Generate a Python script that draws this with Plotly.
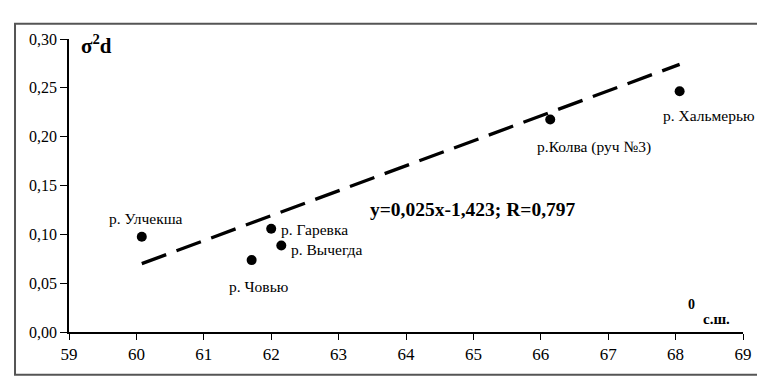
import plotly.graph_objects as go

# Data
rivers = ["р. Улчекша", "р. Човью", "р. Гаревка", "р. Вычегда", "р.Колва (руч №3)", "р. Хальмерью"]
latitude = [60.08, 61.71, 62.00, 62.15, 66.14, 68.06]
sigma2d = [0.0975, 0.0736, 0.1057, 0.0886, 0.2175, 0.2465]
trend_x = [60.08, 68.06]
trend_y = [0.070, 0.274]
equation = "y=0,025x-1,423; R=0,797"
x_ticks = [59, 60, 61, 62, 63, 64, 65, 66, 67, 68, 69]
y_ticks = [0.00, 0.05, 0.10, 0.15, 0.20, 0.25, 0.30]
y_tick_labels = ["0,00", "0,05", "0,10", "0,15", "0,20", "0,25", "0,30"]

FONT = "Liberation Serif, Times New Roman, serif"

fig = go.Figure()
fig.add_trace(go.Scatter(
    x=trend_x, y=trend_y, mode="lines",
    line=dict(color="black", width=3.3, dash="26px,11px"),
    hoverinfo="skip", showlegend=False))
fig.add_trace(go.Scatter(
    x=latitude, y=sigma2d, mode="markers",
    marker=dict(color="black", size=10),
    showlegend=False))

# label offsets (pixels) relative to each point
label_style = [
    dict(xanchor="center", xshift=4, yshift=18),
    dict(xanchor="center", xshift=7, yshift=-26),
    dict(xanchor="left", xshift=8, yshift=-1),
    dict(xanchor="left", xshift=8, yshift=-4),
    dict(xanchor="center", xshift=44, yshift=-27),
    dict(xanchor="center", xshift=29, yshift=-24),
]
for name, xv, yv, st in zip(rivers, latitude, sigma2d, label_style):
    fig.add_annotation(x=xv, y=yv, text=name, showarrow=False,
                       yanchor="middle", font=dict(family=FONT, size=15.5, color="black"), **st)

fig.add_annotation(x=63.44, y=0.1251, text="<b>" + equation + "</b>", showarrow=False,
                   xanchor="left", yanchor="middle",
                   font=dict(family=FONT, size=19.5, color="black"))
fig.add_annotation(x=59.15, y=0.294, text="<b>σ<sup>2</sup>d</b>", showarrow=False,
                   xanchor="left", yanchor="middle",
                   font=dict(family=FONT, size=21, color="black"))
fig.add_annotation(x=68.23, y=0.028, text="<b>0</b>", showarrow=False,
                   xanchor="center", yanchor="middle",
                   font=dict(family=FONT, size=14, color="black"))
fig.add_annotation(x=68.38, y=0.0129, text="<b>с.ш.</b>", showarrow=False,
                   xanchor="left", yanchor="middle",
                   font=dict(family=FONT, size=15, color="black"))

# outer frame
fig.add_shape(type="rect", xref="paper", yref="paper",
              x0=-0.0801, x1=1.0326, y0=-0.1456, y1=1.0522,
              line=dict(color="#555555", width=2))

fig.update_xaxes(range=[59, 69], tickvals=x_ticks, ticks="outside", ticklen=6,
                 tickcolor="black", showline=True, linecolor="black", linewidth=1.5,
                 showgrid=False, zeroline=False,
                 tickfont=dict(family=FONT, size=17, color="black"))
fig.update_yaxes(range=[0, 0.30], tickvals=y_ticks, ticktext=y_tick_labels,
                 ticks="outside", ticklen=7, tickcolor="black",
                 showline=True, linecolor="black", linewidth=1.5,
                 showgrid=False, zeroline=False,
                 tickfont=dict(family=FONT, size=16, color="black"))

fig.update_layout(width=765, height=378, margin=dict(l=61, r=30, t=31, b=54),
                  plot_bgcolor="white", paper_bgcolor="white", showlegend=False)

fig.write_html("out.html")
